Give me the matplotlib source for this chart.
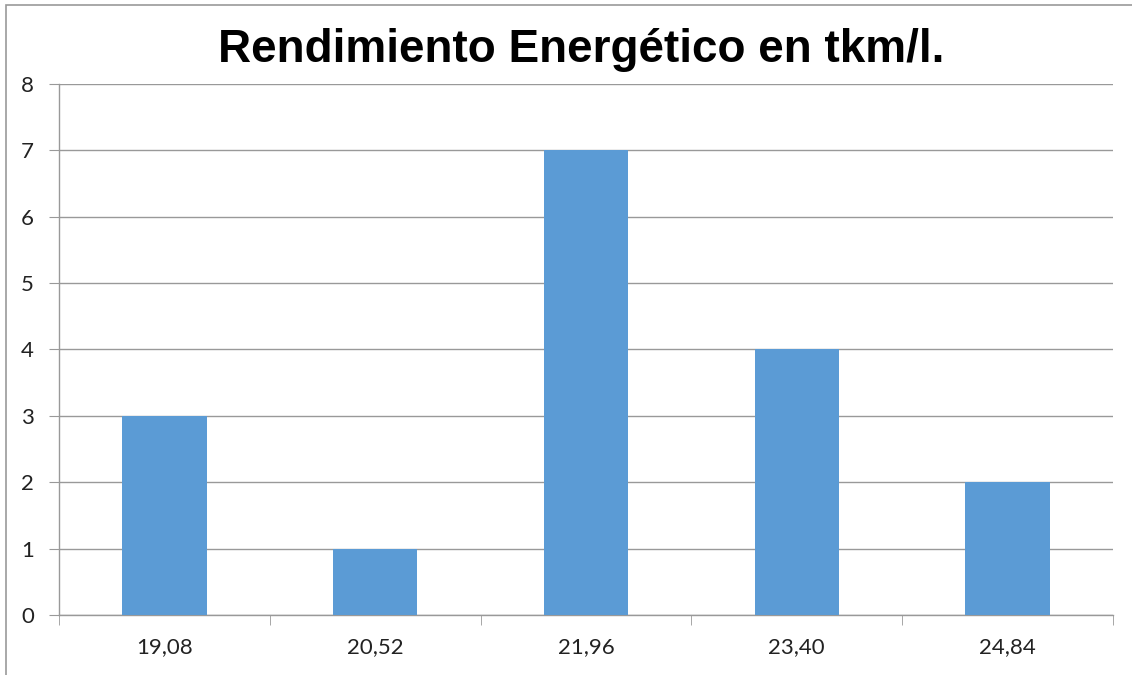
import matplotlib.pyplot as plt
from matplotlib.patches import Rectangle

categories = ['19,08', '20,52', '21,96', '23,40', '24,84']
counts = [3, 1, 7, 4, 2]
yticks = [0, 1, 2, 3, 4, 5, 6, 7, 8]

fig = plt.figure(figsize=(11.32, 6.75), dpi=100)
ax = fig.add_axes([0.0521, 0.0889, 0.9311, 0.7867])

x = range(len(categories))
ax.bar(x, counts, width=0.4, color='#5B9BD5', zorder=3)

ax.set_xlim(-0.5, len(categories) - 0.5)
ax.set_ylim(0, 8)
ax.set_yticks(yticks)
ax.set_yticklabels([str(v) for v in yticks], fontsize=16, family='Lato', color='#222222')
ax.set_xticks(list(x))
ax.set_xticklabels(categories, fontsize=16, family='Lato', color='#222222')
ax.tick_params(axis='x', length=0, pad=16)
ax.tick_params(axis='y', length=7, color='#999999', pad=11)
# tick marks between categories
ax.set_xticks([i - 0.5 for i in range(len(categories) + 1)], minor=True)
ax.tick_params(axis='x', which='minor', length=7, color='#999999')

ax.grid(axis='y', color='#999999', linewidth=1, zorder=0)
for s in ['top', 'right']:
    ax.spines[s].set_visible(False)
for s in ['left', 'bottom']:
    ax.spines[s].set_color('#999999')
    ax.spines[s].set_linewidth(1)

fig.text(0.513, 0.908, 'Rendimiento Energético en tkm/l.', ha='center', va='baseline',
         fontsize=33, fontweight='bold', family='Liberation Sans')

# chart frame
fig.patches.append(Rectangle((6 / 1132, -0.1), 1.2, 1 - 5 / 675 + 0.1, transform=fig.transFigure,
                             fill=False, edgecolor='#999999', linewidth=1.2))

fig.savefig('out.png', dpi=100)
